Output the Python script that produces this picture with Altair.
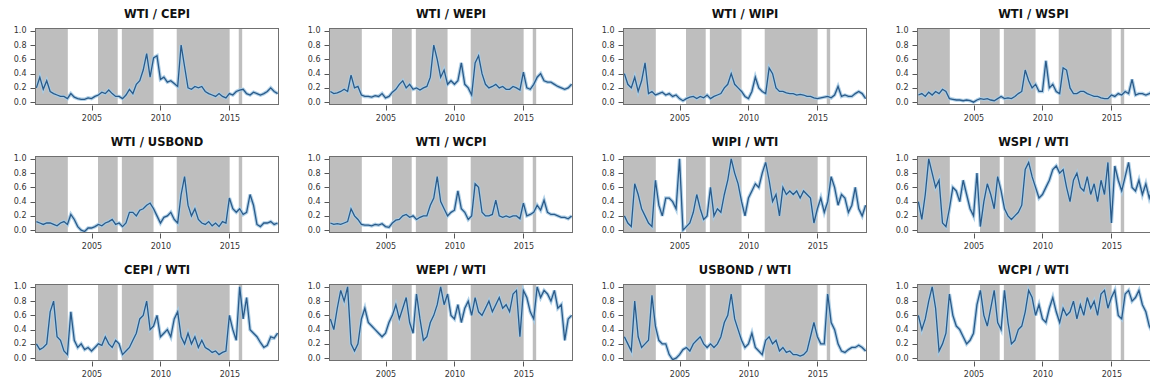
import altair as alt
import pandas as pd

# time axis (quarterly samples)
years = [2001 + 0.25 * i for i in range(71)]

titles = ["WTI / CEPI", "WTI / WEPI", "WTI / WIPI", "WTI / WSPI",
          "WTI / USBOND", "WTI / WCPI", "WIPI / WTI", "WSPI / WTI",
          "CEPI / WTI", "WEPI / WTI", "USBOND / WTI", "WCPI / WTI"]

wti_cepi = [0.20, 0.35, 0.18, 0.30, 0.15, 0.12, 0.10, 0.08, 0.08, 0.05, 0.12, 0.07,
            0.05, 0.04, 0.04, 0.06, 0.05, 0.08, 0.10, 0.14, 0.12, 0.17, 0.12, 0.08,
            0.08, 0.05, 0.10, 0.18, 0.12, 0.25, 0.30, 0.45, 0.68, 0.35, 0.62, 0.65,
            0.32, 0.35, 0.28, 0.30, 0.26, 0.22, 0.80, 0.50, 0.20, 0.18, 0.22, 0.20,
            0.22, 0.15, 0.12, 0.10, 0.08, 0.12, 0.08, 0.06, 0.12, 0.10, 0.15, 0.17,
            0.18, 0.12, 0.10, 0.14, 0.12, 0.10, 0.12, 0.15, 0.20, 0.15, 0.12]
wti_wepi = [0.15, 0.12, 0.13, 0.15, 0.18, 0.15, 0.38, 0.20, 0.22, 0.10, 0.08, 0.08,
            0.07, 0.09, 0.08, 0.12, 0.06, 0.08, 0.14, 0.18, 0.25, 0.30, 0.20, 0.25,
            0.18, 0.20, 0.17, 0.20, 0.22, 0.35, 0.80, 0.60, 0.35, 0.45, 0.25, 0.30,
            0.25, 0.30, 0.55, 0.25, 0.20, 0.10, 0.55, 0.65, 0.40, 0.25, 0.20, 0.22,
            0.25, 0.20, 0.22, 0.18, 0.18, 0.22, 0.20, 0.17, 0.42, 0.20, 0.18, 0.25,
            0.35, 0.40, 0.30, 0.28, 0.28, 0.25, 0.22, 0.20, 0.18, 0.20, 0.25]
wti_wipi = [0.40, 0.25, 0.20, 0.35, 0.15, 0.30, 0.55, 0.12, 0.15, 0.10, 0.12, 0.14,
            0.10, 0.12, 0.08, 0.10, 0.05, 0.02, 0.05, 0.07, 0.08, 0.05, 0.08, 0.06,
            0.10, 0.05, 0.08, 0.10, 0.12, 0.20, 0.25, 0.40, 0.25, 0.20, 0.15, 0.08,
            0.05, 0.15, 0.35, 0.20, 0.15, 0.12, 0.48, 0.40, 0.20, 0.15, 0.15, 0.13,
            0.12, 0.12, 0.10, 0.11, 0.10, 0.08, 0.08, 0.06, 0.05, 0.06, 0.07, 0.08,
            0.06, 0.10, 0.22, 0.08, 0.10, 0.08, 0.08, 0.12, 0.15, 0.12, 0.05]
wti_wspi = [0.10, 0.12, 0.08, 0.14, 0.10, 0.15, 0.12, 0.18, 0.15, 0.05, 0.04, 0.03,
            0.03, 0.02, 0.03, 0.02, 0.00, 0.03, 0.05, 0.04, 0.05, 0.03, 0.02, 0.05,
            0.08, 0.05, 0.06, 0.05, 0.08, 0.12, 0.15, 0.45, 0.30, 0.20, 0.25, 0.15,
            0.15, 0.58, 0.20, 0.25, 0.15, 0.12, 0.48, 0.45, 0.20, 0.12, 0.12, 0.15,
            0.15, 0.12, 0.10, 0.08, 0.08, 0.06, 0.05, 0.05, 0.10, 0.08, 0.12, 0.10,
            0.15, 0.12, 0.32, 0.10, 0.12, 0.12, 0.10, 0.12, 0.15, 0.12, 0.12]
wti_usbond = [0.12, 0.10, 0.08, 0.10, 0.10, 0.08, 0.06, 0.10, 0.12, 0.08, 0.22, 0.15,
              0.05, 0.00, -0.02, 0.03, 0.03, 0.05, 0.08, 0.06, 0.10, 0.12, 0.15, 0.08,
              0.10, 0.05, 0.10, 0.25, 0.25, 0.20, 0.28, 0.30, 0.35, 0.38, 0.30, 0.20,
              0.10, 0.18, 0.20, 0.25, 0.15, 0.10, 0.50, 0.75, 0.35, 0.20, 0.30, 0.15,
              0.10, 0.08, 0.12, 0.06, 0.10, 0.05, 0.12, 0.10, 0.45, 0.30, 0.25, 0.30,
              0.22, 0.25, 0.50, 0.35, 0.08, 0.05, 0.10, 0.10, 0.12, 0.08, 0.10]
wti_wcpi = [0.10, 0.08, 0.09, 0.08, 0.10, 0.12, 0.30, 0.20, 0.15, 0.08, 0.07, 0.07,
            0.06, 0.08, 0.07, 0.09, 0.05, 0.04, 0.10, 0.14, 0.15, 0.20, 0.22, 0.18,
            0.20, 0.15, 0.18, 0.20, 0.20, 0.35, 0.45, 0.75, 0.40, 0.30, 0.20, 0.25,
            0.28, 0.55, 0.30, 0.25, 0.15, 0.20, 0.65, 0.60, 0.25, 0.20, 0.20, 0.22,
            0.42, 0.20, 0.18, 0.20, 0.18, 0.20, 0.20, 0.16, 0.38, 0.20, 0.22, 0.25,
            0.35, 0.28, 0.42, 0.25, 0.22, 0.22, 0.20, 0.18, 0.18, 0.16, 0.20]
wipi_wti = [0.20, 0.10, 0.05, 0.65, 0.50, 0.30, 0.20, 0.10, 0.05, 0.70, 0.35, 0.20,
            0.45, 0.45, 0.40, 0.30, 1.00, 0.00, 0.05, 0.10, 0.25, 0.50, 0.30, 0.15,
            0.20, 0.60, 0.20, 0.30, 0.25, 0.50, 0.70, 1.00, 0.80, 0.65, 0.40, 0.20,
            0.45, 0.55, 0.65, 0.60, 0.80, 0.95, 0.70, 0.40, 0.50, 0.20, 0.60, 0.50,
            0.55, 0.50, 0.55, 0.45, 0.55, 0.50, 0.45, 0.10, 0.30, 0.45, 0.25, 0.40,
            0.75, 0.60, 0.35, 0.50, 0.45, 0.25, 0.35, 0.60, 0.30, 0.20, 0.35]
wspi_wti = [0.40, 0.15, 0.50, 1.00, 0.80, 0.60, 0.70, 0.10, 0.05, 0.30, 0.60, 0.55,
            0.40, 0.70, 0.50, 0.30, 0.20, 0.80, 0.05, 0.40, 0.65, 0.50, 0.30, 0.75,
            0.55, 0.30, 0.20, 0.15, 0.20, 0.25, 0.35, 0.85, 0.95, 0.75, 0.60, 0.45,
            0.50, 0.60, 0.70, 0.85, 0.90, 0.80, 0.85, 0.60, 0.40, 0.70, 0.80, 0.60,
            0.55, 0.75, 0.50, 0.65, 0.40, 0.70, 0.50, 0.95, 0.10, 0.90, 0.70, 0.55,
            0.75, 0.95, 0.60, 0.55, 0.70, 0.50, 0.65, 0.45, 0.60, 0.55, 0.65]
cepi_wti = [0.20, 0.12, 0.15, 0.20, 0.65, 0.80, 0.30, 0.25, 0.10, 0.05, 0.65, 0.25,
            0.15, 0.20, 0.12, 0.15, 0.10, 0.15, 0.20, 0.18, 0.30, 0.20, 0.15, 0.25,
            0.20, 0.05, 0.10, 0.15, 0.25, 0.35, 0.55, 0.60, 0.80, 0.40, 0.45, 0.60,
            0.30, 0.35, 0.40, 0.30, 0.55, 0.65, 0.30, 0.20, 0.35, 0.20, 0.30, 0.15,
            0.25, 0.15, 0.12, 0.08, 0.10, 0.05, 0.08, 0.10, 0.60, 0.40, 0.25, 1.00,
            0.55, 0.85, 0.40, 0.35, 0.30, 0.22, 0.15, 0.18, 0.30, 0.28, 0.35]
wepi_wti = [0.55, 0.40, 0.70, 0.95, 0.80, 1.00, 0.20, 0.10, 0.20, 0.55, 0.70, 0.50,
            0.45, 0.40, 0.35, 0.30, 0.35, 0.50, 0.60, 0.75, 0.55, 0.70, 0.85, 0.50,
            0.35, 0.90, 0.55, 0.25, 0.30, 0.50, 0.60, 0.75, 1.00, 0.75, 0.90, 0.60,
            0.55, 0.75, 0.50, 0.70, 0.80, 0.60, 0.85, 0.65, 0.60, 0.70, 0.80, 0.65,
            0.75, 0.85, 0.70, 0.75, 0.65, 0.90, 0.95, 0.30, 0.95, 0.85, 0.65, 0.55,
            1.00, 0.85, 0.95, 0.90, 0.80, 0.95, 0.70, 0.75, 0.25, 0.55, 0.60]
usbond_wti = [0.30, 0.20, 0.10, 0.80, 0.30, 0.15, 0.20, 0.25, 0.88, 0.45, 0.25, 0.20,
              0.20, 0.05, -0.02, 0.00, 0.05, 0.12, 0.15, 0.10, 0.20, 0.25, 0.30, 0.20,
              0.15, 0.20, 0.15, 0.20, 0.30, 0.50, 0.60, 0.90, 0.55, 0.40, 0.25, 0.15,
              0.20, 0.35, 0.15, 0.10, 0.05, 0.25, 0.30, 0.20, 0.25, 0.10, 0.15, 0.08,
              0.10, 0.05, 0.05, 0.03, 0.05, 0.10, 0.30, 0.50, 0.30, 0.20, 0.20, 0.90,
              0.50, 0.40, 0.20, 0.10, 0.08, 0.12, 0.15, 0.15, 0.18, 0.15, 0.10]
wcpi_wti = [0.60, 0.40, 0.55, 0.80, 1.00, 0.70, 0.10, 0.20, 0.35, 0.90, 0.60, 0.45,
            0.40, 0.30, 0.20, 0.25, 0.35, 0.75, 0.95, 0.60, 0.45, 0.70, 0.95, 0.50,
            0.40, 0.95, 0.50, 0.20, 0.25, 0.40, 0.45, 0.65, 0.95, 0.85, 0.60, 0.75,
            0.55, 0.50, 0.70, 0.85, 0.65, 0.50, 0.70, 0.60, 0.65, 0.80, 0.55, 0.75,
            0.60, 0.85, 0.70, 0.80, 0.60, 0.90, 0.95, 0.70, 0.85, 0.95, 0.60, 0.55,
            0.90, 0.95, 0.80, 0.85, 0.95, 0.75, 0.65, 0.45, 0.35, 0.60, 0.50]

series = [wti_cepi, wti_wepi, wti_wipi, wti_wspi,
          wti_usbond, wti_wcpi, wipi_wti, wspi_wti,
          cepi_wti, wepi_wti, usbond_wti, wcpi_wti]

# shaded regime periods
shade_start = [2000.9, 2005.47, 2007.2, 2011.18, 2015.68]
shade_end = [2003.28, 2006.9, 2009.5, 2015.02, 2015.93]

x_ticks = [2005, 2010, 2015]
y_ticks = [0.0, 0.2, 0.4, 0.6, 0.8, 1.0]

X_MIN, X_MAX = 2000.9, 2018.6
W, H = 244, 77
W_LAST = 233  # last column is cut off by the picture's right edge
TITLE_FONT = "DejaVu Sans"
LABEL_FONT = "DejaVu Sans"
FRAME = "#707070"

ys = alt.Scale(domain=[-0.04, 1.04], nice=False, zero=False)
x_axis = alt.Axis(values=x_ticks, format="d", title=None, grid=False, domain=False)
y_axis = alt.Axis(values=y_ticks, format=".1f", title=None, grid=False, domain=False)

shade_df = pd.DataFrame({"start": shade_start, "end": shade_end})
frame_df = pd.DataFrame({"k": [0]})


def panel(title, values, last_col):
    w = W_LAST if last_col else W
    x_max = X_MIN + (X_MAX - X_MIN) * w / W
    xs = alt.Scale(domain=[X_MIN, x_max], nice=False, zero=False)
    df = pd.DataFrame({"year": years, "value": values})
    shade = alt.Chart(shade_df).mark_rect(color="#BEBEBE", clip=True).encode(
        x=alt.X("start:Q", scale=xs, axis=x_axis),
        x2="end:Q",
        y=alt.value(0),
        y2=alt.value(H),
    )
    base = alt.Chart(df).encode(
        x=alt.X("year:Q", scale=xs, axis=x_axis),
        y=alt.Y("value:Q", scale=ys, axis=y_axis),
    )
    halo = base.mark_line(color="#A9CCE6", strokeWidth=3.5, opacity=0.9, clip=True)
    line = base.mark_line(color="#2B5A88", strokeWidth=1.3, clip=True)
    fr = alt.Chart(frame_df)
    top = fr.mark_rule(color=FRAME, strokeWidth=1).encode(
        x=alt.value(0), x2=alt.value(w), y=alt.value(0.5))
    bottom = fr.mark_rule(color=FRAME, strokeWidth=1).encode(
        x=alt.value(0), x2=alt.value(w), y=alt.value(H - 0.5))
    left = fr.mark_rule(color=FRAME, strokeWidth=1).encode(
        x=alt.value(0.5), y=alt.value(0), y2=alt.value(H))
    layers = [shade, halo, line, top, bottom, left]
    if not last_col:
        right = fr.mark_rule(color=FRAME, strokeWidth=1).encode(
            x=alt.value(w - 0.5), y=alt.value(0), y2=alt.value(H))
        layers.append(right)
    return alt.layer(*layers).properties(
        width=w, height=H, title=alt.TitleParams(title)
    )


panels = [panel(t, s, i % 4 == 3) for i, (t, s) in enumerate(zip(titles, series))]

chart = alt.concat(
    *panels, columns=4, spacing={"row": 51, "column": 50}, bounds="flush"
).properties(
    padding={"left": 5, "top": 1, "right": 0, "bottom": 0}
).configure_view(
    strokeWidth=0
).configure_axis(
    labelFont=LABEL_FONT, labelFontSize=8, labelColor="#333333",
    tickColor="#555555", tickSize=5, labelPadding=4
).configure_title(
    font=TITLE_FONT, fontSize=11.5, fontWeight="bold", color="#111111",
    offset=6, anchor="middle"
)

chart.save("out.html", embed_options={"renderer": "svg", "actions": False})
